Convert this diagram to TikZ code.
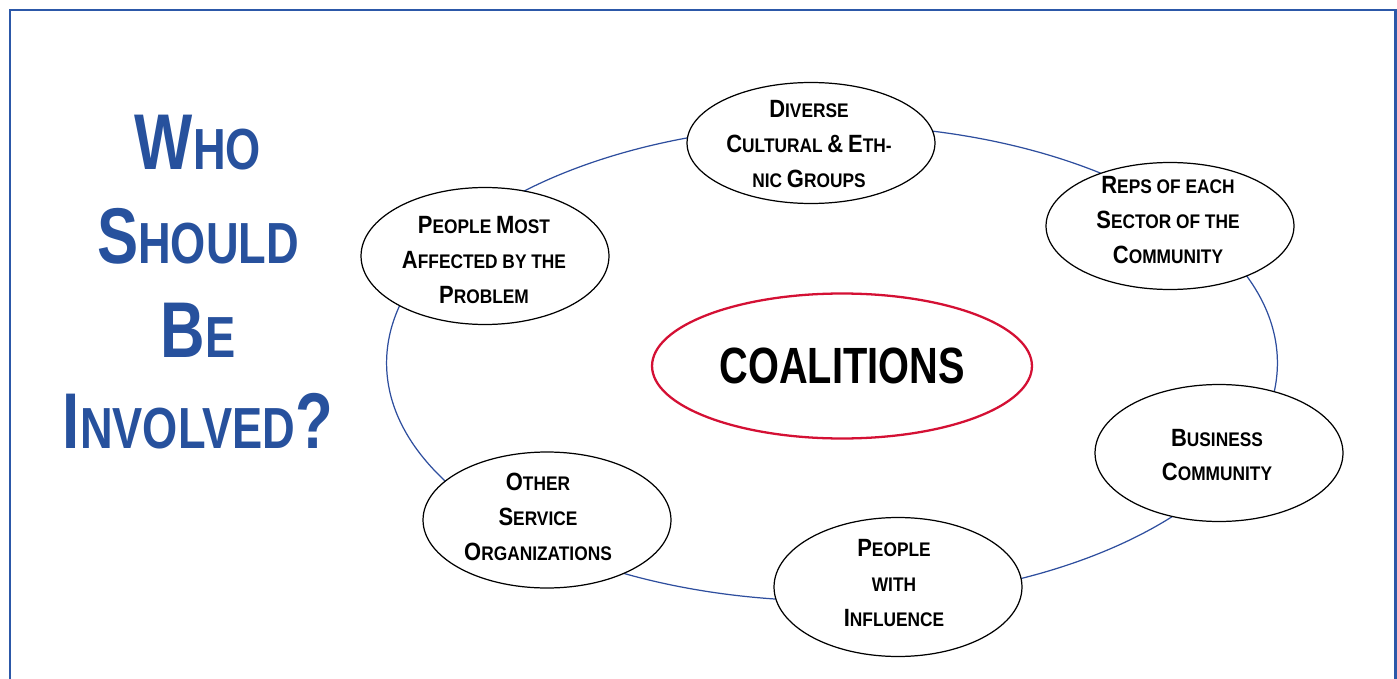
\documentclass[tikz,border=0pt]{standalone}
\usepackage{fontspec}
\setmainfont{Liberation Sans}
\newfontfamily\titlefont[FakeStretch=0.78]{Liberation Sans}
\newfontfamily\itemfont[FakeStretch=0.88]{Liberation Sans}
\usetikzlibrary{shapes.geometric}
\definecolor{cframe}{HTML}{2C58A8}
\definecolor{ctitle}{HTML}{27519D}
\definecolor{cring}{HTML}{2E4E9E}
\definecolor{cred}{HTML}{D41034}
\newcommand{\tbig}[1]{{\fontsize{45}{53}\selectfont #1}}
\newcommand{\ibig}[1]{{\fontsize{14.2}{19.8}\selectfont #1}}
\tikzset{
  frame/.style={draw=cframe, line width=1.7pt},
  ring/.style={draw=cring, line width=0.7pt},
  group/.style={ellipse, draw=black, line width=0.7pt, fill=white, minimum width=4.96cm, inner sep=0pt},
  grouptext/.style={font=\itemfont\bfseries\fontsize{11.2}{19.8}\selectfont, align=center, inner sep=0pt},
  centre/.style={ellipse, draw=cred, line width=1.3pt, fill=white, minimum width=7.6cm, minimum height=2.9cm, inner sep=0pt,
    font=\titlefont\bfseries\fontsize{29}{34}\selectfont},
  title/.style={font=\titlefont\bfseries\fontsize{33}{53}\selectfont, text=ctitle, anchor=base},
}

\begin{document}
\begin{tikzpicture}[x=0.02cm, y=-0.02cm]
  \useasboundingbox (0,0) rectangle (1397,679);
  \draw[frame] (10,679) -- (10,10) -- (1395,10) -- (1395,679);

  % title
  \node[title] (who) at (198,170) {\tbig{W}HO};
  \node[title] (should) at (198,263) {\tbig{S}HOULD};
  \node[title] (be) at (198,357) {\tbig{B}E};
  \node[title] (involved) at (198,448) {\tbig{I}NVOLVED\tbig{?}};

  % ring behind the groups
  \coordinate (ringc) at (832,363);
  \draw[ring] (ringc) ellipse [x radius=8.91cm, y radius=4.76cm];

  \node[centre] (coal) at (842,366) {COALITIONS};

  \node[group, minimum height=2.42cm] (diverse) at (811,143) {};
  \node[grouptext] (diverset) at (809,144) {\ibig{D}IVERSE\\ \ibig{C}ULTURAL \ibig{\&} \ibig{E}TH-\\ NIC \ibig{G}ROUPS};

  \node[group, minimum height=2.54cm] (reps) at (1170,226) {};
  \node[grouptext] (repst) at (1168,220) {\ibig{R}EPS OF EACH\\ \ibig{S}ECTOR OF THE\\ \ibig{C}OMMUNITY};

  \node[group, minimum height=2.74cm] (business) at (1219,453) {};
  \node[grouptext] (businesst) at (1217,455) {\ibig{B}USINESS\\ \ibig{C}OMMUNITY};

  \node[group, minimum height=2.78cm] (influence) at (898,587) {};
  \node[grouptext] (influencet) at (894,583) {\ibig{P}EOPLE\\ WITH\\ \ibig{I}NFLUENCE};

  \node[group, minimum height=2.72cm] (service) at (547,520) {};
  \node[grouptext] (servicet) at (538,517) {\ibig{O}THER\\ \ibig{S}ERVICE\\ \ibig{O}RGANIZATIONS};

  \node[group, minimum height=2.74cm] (affected) at (485,256) {};
  \node[grouptext] (affectedt) at (484,260) {\ibig{P}EOPLE \ibig{M}OST\\ \ibig{A}FFECTED BY THE\\ \ibig{P}ROBLEM};
\end{tikzpicture}
\end{document}
